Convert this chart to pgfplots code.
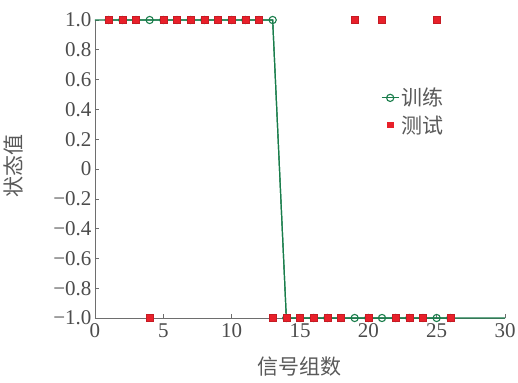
\documentclass[border=0pt]{standalone}
\usepackage{fontspec}
\setmainfont{Liberation Serif}
\newfontfamily\cjk{Noto Sans CJK SC}
\usepackage{pgfplots}
\pgfplotsset{compat=1.18}
\definecolor{trgreen}{RGB}{25,125,75}
\definecolor{tsred}{RGB}{232,32,42}
\definecolor{axgray}{RGB}{110,110,110}
\begin{document}
\begin{tikzpicture}
\path[use as bounding box] (-95bp,-65bp) rectangle (423bp,318bp);
\begin{axis}[
  at={(0,0)}, anchor=south west,
  scale only axis, width=410bp, height=298bp,
  xmin=0, xmax=30, ymin=-1, ymax=1,
  axis x line*=bottom, axis y line*=left,
  axis line style={axgray, line width=0.8pt},
  tick style={axgray, line width=0.6pt},
  tick align=inside,
  major tick length=4bp,
  xtick={0,5,10,15,20,25,30},
  ytick={-1,-0.8,-0.6,-0.4,-0.2,0,0.2,0.4,0.6,0.8,1},
  yticklabels={−1.0,−0.8,−0.6,−0.4,−0.2,0,0.2,0.4,0.6,0.8,1.0},
  /pgf/number format/assume math mode=true,
  ticklabel style={font=\fontsize{21bp}{23bp}\selectfont, text=black!70},
  xticklabel style={yshift=-2bp},
  xlabel={\cjk 信号组数},
  ylabel={\cjk 状态值},
  label style={font=\fontsize{21bp}{23bp}\selectfont, text=black!65},
  xlabel style={at={(axis description cs:0.5,-0.164)}, anchor=center},
  ylabel style={at={(axis description cs:-0.2,0.51)}, anchor=center},
  clip=false,
  legend style={at={(0.69,0.785)}, anchor=north west, draw=none, fill=none,
    font=\fontsize{21bp}{23bp}\selectfont\cjk, text=black!65, row sep=4bp},
  legend cell align=left,
]
\addplot[trgreen, line width=1.2pt, forget plot] coordinates {(0,1)(13,1)(14,-1)(30,-1)};
\addplot[trgreen, line width=1.2pt, mark=o, mark size=3.6bp, mark options={line width=1.1pt, fill=white}] coordinates {
(1,1)(2,1)(3,1)(4,1)(5,1)(6,1)(7,1)(8,1)(9,1)(10,1)(11,1)(12,1)(13,1)
(14,-1)(15,-1)(16,-1)(17,-1)(18,-1)(19,-1)(20,-1)(21,-1)(22,-1)(23,-1)(24,-1)(25,-1)(26,-1)};
\addlegendentry{训练}
\addplot[only marks, mark=square*, mark size=3.6bp, color=tsred, mark options={fill=tsred, draw=tsred!85!black, line width=0.4pt},
  legend image code/.code={\draw[mark=square*, mark size=2.6bp, tsred, mark options={fill=tsred}] plot coordinates {(0.3cm,0cm)};}] coordinates {
(1,1)(2,1)(3,1)(4,-1)(5,1)(6,1)(7,1)(8,1)(9,1)(10,1)(11,1)(12,1)(13,-1)
(14,-1)(15,-1)(16,-1)(17,-1)(18,-1)(19,1)(20,-1)(21,1)(22,-1)(23,-1)(24,-1)(25,1)(26,-1)};
\addlegendentry{测试}
\end{axis}
\end{tikzpicture}
\end{document}
